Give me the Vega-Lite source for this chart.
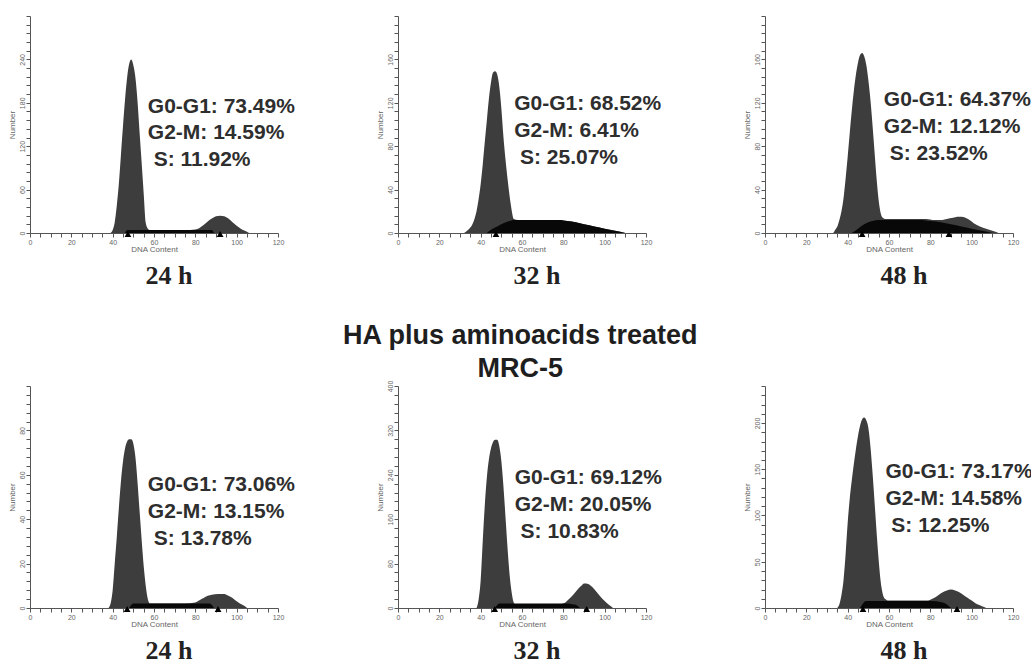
{
  "$schema": "https://vega.github.io/schema/vega-lite/v6.json",
  "background": "white",
  "padding": {"left": 8, "top": 15, "right": 5, "bottom": 5},
  "datasets": {
    "rows": [
      {"p":"A","k":"h","x":39,"v":0},{"p":"A","k":"h","x":40,"v":4},{"p":"A","k":"h","x":41,"v":15},{"p":"A","k":"h","x":42,"v":38},{"p":"A","k":"h","x":43,"v":68},{"p":"A","k":"h","x":44,"v":108},{"p":"A","k":"h","x":45,"v":148},{"p":"A","k":"h","x":46,"v":185},{"p":"A","k":"h","x":47,"v":215},{"p":"A","k":"h","x":48,"v":234},{"p":"A","k":"h","x":49,"v":240},{"p":"A","k":"h","x":50,"v":232},{"p":"A","k":"h","x":51,"v":215},{"p":"A","k":"h","x":52,"v":183},{"p":"A","k":"h","x":53,"v":140},{"p":"A","k":"h","x":54,"v":98},{"p":"A","k":"h","x":55,"v":55},{"p":"A","k":"h","x":56,"v":14},{"p":"A","k":"h","x":57,"v":6},{"p":"A","k":"h","x":58,"v":4},{"p":"A","k":"h","x":65,"v":4},{"p":"A","k":"h","x":75,"v":4},{"p":"A","k":"h","x":80,"v":5},{"p":"A","k":"h","x":82,"v":7},{"p":"A","k":"h","x":84,"v":11},{"p":"A","k":"h","x":86,"v":16},{"p":"A","k":"h","x":88,"v":20},{"p":"A","k":"h","x":90,"v":23},{"p":"A","k":"h","x":92,"v":24},{"p":"A","k":"h","x":94,"v":23},{"p":"A","k":"h","x":96,"v":20},{"p":"A","k":"h","x":98,"v":15},{"p":"A","k":"h","x":100,"v":10},{"p":"A","k":"h","x":102,"v":6},{"p":"A","k":"h","x":104,"v":3},{"p":"A","k":"h","x":106,"v":0},
      {"p":"A","k":"b","x":46,"v":0},{"p":"A","k":"b","x":47,"v":4},{"p":"A","k":"b","x":55,"v":4},{"p":"A","k":"b","x":65,"v":4},{"p":"A","k":"b","x":75,"v":4},{"p":"A","k":"b","x":85,"v":4},{"p":"A","k":"b","x":88,"v":4},{"p":"A","k":"b","x":89,"v":0},
      {"p":"A","k":"t","x":47.4,"v":0},{"p":"A","k":"t","x":92,"v":0},
      {"p":"A","k":"l","x":57,"v":166,"t":"G0-G1: 73.49%\nG2-M: 14.59%\n\u200b\u00a0S: 11.92%"},

      {"p":"B","k":"h","x":32,"v":0},{"p":"B","k":"h","x":34,"v":3},{"p":"B","k":"h","x":36,"v":8},{"p":"B","k":"h","x":37,"v":13},{"p":"B","k":"h","x":38,"v":20},{"p":"B","k":"h","x":39,"v":31},{"p":"B","k":"h","x":40,"v":45},{"p":"B","k":"h","x":41,"v":63},{"p":"B","k":"h","x":42,"v":84},{"p":"B","k":"h","x":43,"v":104},{"p":"B","k":"h","x":44,"v":124},{"p":"B","k":"h","x":45,"v":139},{"p":"B","k":"h","x":46,"v":148},{"p":"B","k":"h","x":47,"v":149},{"p":"B","k":"h","x":48,"v":146},{"p":"B","k":"h","x":49,"v":135},{"p":"B","k":"h","x":50,"v":115},{"p":"B","k":"h","x":51,"v":89},{"p":"B","k":"h","x":52,"v":68},{"p":"B","k":"h","x":53,"v":50},{"p":"B","k":"h","x":54,"v":34},{"p":"B","k":"h","x":55,"v":21},{"p":"B","k":"h","x":56,"v":13},{"p":"B","k":"h","x":58,"v":12},{"p":"B","k":"h","x":65,"v":12},{"p":"B","k":"h","x":72,"v":12},{"p":"B","k":"h","x":78,"v":12},{"p":"B","k":"h","x":82,"v":11},{"p":"B","k":"h","x":86,"v":10},{"p":"B","k":"h","x":90,"v":8},{"p":"B","k":"h","x":95,"v":6},{"p":"B","k":"h","x":100,"v":4},{"p":"B","k":"h","x":105,"v":2},{"p":"B","k":"h","x":110,"v":0},
      {"p":"B","k":"b","x":43,"v":0},{"p":"B","k":"b","x":45,"v":3},{"p":"B","k":"b","x":48,"v":6},{"p":"B","k":"b","x":51,"v":9},{"p":"B","k":"b","x":54,"v":11},{"p":"B","k":"b","x":56,"v":12},{"p":"B","k":"b","x":65,"v":12},{"p":"B","k":"b","x":72,"v":12},{"p":"B","k":"b","x":78,"v":12},{"p":"B","k":"b","x":82,"v":11},{"p":"B","k":"b","x":86,"v":10},{"p":"B","k":"b","x":90,"v":8},{"p":"B","k":"b","x":95,"v":6},{"p":"B","k":"b","x":100,"v":4},{"p":"B","k":"b","x":105,"v":2},{"p":"B","k":"b","x":110,"v":0},
      {"p":"B","k":"t","x":47.4,"v":0},
      {"p":"B","k":"l","x":56.2,"v":113,"t":"G0-G1: 68.52%\nG2-M: 6.41%\n\u200b\u00a0S: 25.07%"},

      {"p":"C","k":"h","x":33,"v":0},{"p":"C","k":"h","x":34,"v":3},{"p":"C","k":"h","x":35,"v":6},{"p":"C","k":"h","x":36,"v":12},{"p":"C","k":"h","x":37,"v":20},{"p":"C","k":"h","x":38,"v":32},{"p":"C","k":"h","x":39,"v":50},{"p":"C","k":"h","x":40,"v":70},{"p":"C","k":"h","x":41,"v":92},{"p":"C","k":"h","x":42,"v":113},{"p":"C","k":"h","x":43,"v":131},{"p":"C","k":"h","x":44,"v":146},{"p":"C","k":"h","x":45,"v":157},{"p":"C","k":"h","x":46,"v":164},{"p":"C","k":"h","x":47,"v":166},{"p":"C","k":"h","x":48,"v":163},{"p":"C","k":"h","x":49,"v":155},{"p":"C","k":"h","x":50,"v":141},{"p":"C","k":"h","x":51,"v":123},{"p":"C","k":"h","x":52,"v":100},{"p":"C","k":"h","x":53,"v":75},{"p":"C","k":"h","x":54,"v":50},{"p":"C","k":"h","x":55,"v":30},{"p":"C","k":"h","x":56,"v":18},{"p":"C","k":"h","x":57,"v":14},{"p":"C","k":"h","x":58,"v":13},{"p":"C","k":"h","x":65,"v":13},{"p":"C","k":"h","x":72,"v":13},{"p":"C","k":"h","x":78,"v":13},{"p":"C","k":"h","x":82,"v":12},{"p":"C","k":"h","x":85,"v":12},{"p":"C","k":"h","x":88,"v":13},{"p":"C","k":"h","x":91,"v":14},{"p":"C","k":"h","x":93,"v":15},{"p":"C","k":"h","x":95,"v":15},{"p":"C","k":"h","x":97,"v":14},{"p":"C","k":"h","x":99,"v":12},{"p":"C","k":"h","x":101,"v":9},{"p":"C","k":"h","x":104,"v":6},{"p":"C","k":"h","x":107,"v":4},{"p":"C","k":"h","x":110,"v":2},{"p":"C","k":"h","x":113,"v":0},
      {"p":"C","k":"b","x":42,"v":0},{"p":"C","k":"b","x":45,"v":4},{"p":"C","k":"b","x":48,"v":8},{"p":"C","k":"b","x":52,"v":11},{"p":"C","k":"b","x":55,"v":12},{"p":"C","k":"b","x":65,"v":12},{"p":"C","k":"b","x":75,"v":12},{"p":"C","k":"b","x":80,"v":11},{"p":"C","k":"b","x":85,"v":10},{"p":"C","k":"b","x":90,"v":8},{"p":"C","k":"b","x":95,"v":6},{"p":"C","k":"b","x":100,"v":4},{"p":"C","k":"b","x":105,"v":2},{"p":"C","k":"b","x":110,"v":0},
      {"p":"C","k":"t","x":47,"v":0},{"p":"C","k":"t","x":89,"v":0},
      {"p":"C","k":"l","x":57.5,"v":117,"t":"G0-G1: 64.37%\nG2-M: 12.12%\n\u200b\u00a0S: 23.52%"},

      {"p":"D","k":"h","x":38,"v":0},{"p":"D","k":"h","x":39,"v":2},{"p":"D","k":"h","x":40,"v":8},{"p":"D","k":"h","x":41,"v":20},{"p":"D","k":"h","x":42,"v":32},{"p":"D","k":"h","x":43,"v":45},{"p":"D","k":"h","x":44,"v":57},{"p":"D","k":"h","x":45,"v":66},{"p":"D","k":"h","x":46,"v":72},{"p":"D","k":"h","x":47,"v":75},{"p":"D","k":"h","x":48,"v":76},{"p":"D","k":"h","x":49,"v":76},{"p":"D","k":"h","x":50,"v":74},{"p":"D","k":"h","x":51,"v":68},{"p":"D","k":"h","x":52,"v":57},{"p":"D","k":"h","x":53,"v":44},{"p":"D","k":"h","x":54,"v":31},{"p":"D","k":"h","x":55,"v":19},{"p":"D","k":"h","x":56,"v":10},{"p":"D","k":"h","x":57,"v":4},{"p":"D","k":"h","x":58,"v":2},{"p":"D","k":"h","x":65,"v":2},{"p":"D","k":"h","x":75,"v":2},{"p":"D","k":"h","x":80,"v":2.5},{"p":"D","k":"h","x":82,"v":3.5},{"p":"D","k":"h","x":84,"v":4.5},{"p":"D","k":"h","x":86,"v":5.5},{"p":"D","k":"h","x":88,"v":6},{"p":"D","k":"h","x":91,"v":6.3},{"p":"D","k":"h","x":94,"v":6.3},{"p":"D","k":"h","x":96,"v":5.5},{"p":"D","k":"h","x":98,"v":4.5},{"p":"D","k":"h","x":100,"v":3},{"p":"D","k":"h","x":102,"v":1.8},{"p":"D","k":"h","x":104,"v":0.8},{"p":"D","k":"h","x":105,"v":0},
      {"p":"D","k":"b","x":48,"v":0},{"p":"D","k":"b","x":50,"v":2},{"p":"D","k":"b","x":60,"v":2},{"p":"D","k":"b","x":70,"v":2},{"p":"D","k":"b","x":80,"v":2},{"p":"D","k":"b","x":87,"v":2},{"p":"D","k":"b","x":89,"v":0},
      {"p":"D","k":"t","x":47,"v":0},{"p":"D","k":"t","x":91,"v":0},
      {"p":"D","k":"l","x":57,"v":52.8,"t":"G0-G1: 73.06%\nG2-M: 13.15%\n\u200b\u00a0S: 13.78%"},

      {"p":"E","k":"h","x":38,"v":0},{"p":"E","k":"h","x":39,"v":15},{"p":"E","k":"h","x":40,"v":50},{"p":"E","k":"h","x":41,"v":120},{"p":"E","k":"h","x":42,"v":185},{"p":"E","k":"h","x":43,"v":235},{"p":"E","k":"h","x":44,"v":268},{"p":"E","k":"h","x":45,"v":288},{"p":"E","k":"h","x":46,"v":299},{"p":"E","k":"h","x":47,"v":303},{"p":"E","k":"h","x":48,"v":303},{"p":"E","k":"h","x":49,"v":292},{"p":"E","k":"h","x":50,"v":265},{"p":"E","k":"h","x":51,"v":220},{"p":"E","k":"h","x":52,"v":165},{"p":"E","k":"h","x":53,"v":108},{"p":"E","k":"h","x":54,"v":60},{"p":"E","k":"h","x":55,"v":28},{"p":"E","k":"h","x":56,"v":10},{"p":"E","k":"h","x":57,"v":6},{"p":"E","k":"h","x":65,"v":6},{"p":"E","k":"h","x":75,"v":6},{"p":"E","k":"h","x":79,"v":7},{"p":"E","k":"h","x":81,"v":10},{"p":"E","k":"h","x":83,"v":17},{"p":"E","k":"h","x":85,"v":25},{"p":"E","k":"h","x":87,"v":34},{"p":"E","k":"h","x":89,"v":41},{"p":"E","k":"h","x":90,"v":44},{"p":"E","k":"h","x":91,"v":44},{"p":"E","k":"h","x":93,"v":41},{"p":"E","k":"h","x":95,"v":34},{"p":"E","k":"h","x":97,"v":25},{"p":"E","k":"h","x":99,"v":16},{"p":"E","k":"h","x":101,"v":9},{"p":"E","k":"h","x":103,"v":3},{"p":"E","k":"h","x":104,"v":0},
      {"p":"E","k":"b","x":47,"v":0},{"p":"E","k":"b","x":49,"v":8},{"p":"E","k":"b","x":60,"v":8},{"p":"E","k":"b","x":70,"v":8},{"p":"E","k":"b","x":80,"v":8},{"p":"E","k":"b","x":86,"v":6},{"p":"E","k":"b","x":88,"v":0},
      {"p":"E","k":"t","x":46.8,"v":0},{"p":"E","k":"t","x":91.3,"v":0},
      {"p":"E","k":"l","x":56.5,"v":223,"t":"G0-G1: 69.12%\nG2-M: 20.05%\n\u200b\u00a0S: 10.83%"},

      {"p":"F","k":"h","x":35,"v":0},{"p":"F","k":"h","x":36,"v":4},{"p":"F","k":"h","x":37,"v":14},{"p":"F","k":"h","x":38,"v":30},{"p":"F","k":"h","x":39,"v":58},{"p":"F","k":"h","x":40,"v":92},{"p":"F","k":"h","x":41,"v":118},{"p":"F","k":"h","x":42,"v":138},{"p":"F","k":"h","x":43,"v":156},{"p":"F","k":"h","x":44,"v":172},{"p":"F","k":"h","x":45,"v":186},{"p":"F","k":"h","x":46,"v":197},{"p":"F","k":"h","x":47,"v":204},{"p":"F","k":"h","x":48,"v":206},{"p":"F","k":"h","x":49,"v":203},{"p":"F","k":"h","x":50,"v":195},{"p":"F","k":"h","x":51,"v":175},{"p":"F","k":"h","x":52,"v":147},{"p":"F","k":"h","x":53,"v":115},{"p":"F","k":"h","x":54,"v":82},{"p":"F","k":"h","x":55,"v":52},{"p":"F","k":"h","x":56,"v":28},{"p":"F","k":"h","x":57,"v":15},{"p":"F","k":"h","x":58,"v":10},{"p":"F","k":"h","x":60,"v":8},{"p":"F","k":"h","x":70,"v":8},{"p":"F","k":"h","x":78,"v":8},{"p":"F","k":"h","x":80,"v":9},{"p":"F","k":"h","x":82,"v":11},{"p":"F","k":"h","x":84,"v":14},{"p":"F","k":"h","x":86,"v":17},{"p":"F","k":"h","x":88,"v":19},{"p":"F","k":"h","x":90,"v":20},{"p":"F","k":"h","x":92,"v":19},{"p":"F","k":"h","x":94,"v":17},{"p":"F","k":"h","x":96,"v":14},{"p":"F","k":"h","x":98,"v":11},{"p":"F","k":"h","x":100,"v":8},{"p":"F","k":"h","x":102,"v":5},{"p":"F","k":"h","x":104,"v":3},{"p":"F","k":"h","x":106,"v":1},{"p":"F","k":"h","x":107,"v":0},
      {"p":"F","k":"b","x":46,"v":0},{"p":"F","k":"b","x":49,"v":7.5},{"p":"F","k":"b","x":60,"v":7.5},{"p":"F","k":"b","x":70,"v":7.5},{"p":"F","k":"b","x":80,"v":7.5},{"p":"F","k":"b","x":86,"v":6},{"p":"F","k":"b","x":90,"v":0},
      {"p":"F","k":"t","x":47.4,"v":0},{"p":"F","k":"t","x":92.9,"v":0},
      {"p":"F","k":"l","x":58.3,"v":141,"t":"G0-G1: 73.17%\nG2-M: 14.58%\n\u200b\u00a0S: 12.25%"}
    ]
  },
  "data": {"name": "rows"},
  "spacing": 33,
  "vconcat": [
    {
      "spacing": 81,
      "hconcat": [
        {
          "width": 248, "height": 217,
          "title": {"text": "24 h", "dx": 15},
          "transform": [{"filter": "datum.p == 'A'"}],
          "encoding": {
            "x": {"field": "x", "type": "quantitative", "title": "DNA Content", "scale": {"domain": [0, 120], "nice": false},
                  "axis": {"values": [0,5,10,15,20,25,30,35,40,45,50,55,60,65,70,75,80,85,90,95,100,105,110,115,120], "labelExpr": "datum.value % 20 == 0 ? datum.label : ''"}},
            "y": {"field": "v", "type": "quantitative", "title": "Number", "scale": {"domain": [0, 300], "nice": false},
                  "axis": {"values": [0,12,24,36,48,60,72,84,96,108,120,132,144,156,168,180,192,204,216,228,240,252,264,276,288,300], "labelExpr": "datum.value % 60 == 0 && datum.value < 300 ? datum.label : ''"}}
          },
          "layer": [
            {"transform": [{"filter": "datum.k == 'h'"}], "mark": {"type": "area", "interpolate": "monotone", "color": "#3d3d3d"}},
            {"transform": [{"filter": "datum.k == 'b'"}], "mark": {"type": "area", "interpolate": "monotone", "color": "#080808"}},
            {"transform": [{"filter": "datum.k == 't'"}], "mark": {"type": "point", "shape": "triangle-up", "filled": true, "size": 45, "color": "#000", "opacity": 1, "yOffset": 1}},
            {"transform": [{"filter": "datum.k == 'l'"}], "mark": {"type": "text", "align": "left", "baseline": "alphabetic", "lineBreak": "\n", "font": "Liberation Sans", "fontSize": 21, "fontWeight": "bold", "lineHeight": 26.5, "color": "#2e2e2e"}, "encoding": {"text": {"field": "t"}}}
          ]
        },
        {
          "width": 248, "height": 217,
          "title": {"text": "32 h", "dx": 15},
          "transform": [{"filter": "datum.p == 'B'"}],
          "encoding": {
            "x": {"field": "x", "type": "quantitative", "title": "DNA Content", "scale": {"domain": [0, 120], "nice": false},
                  "axis": {"values": [0,5,10,15,20,25,30,35,40,45,50,55,60,65,70,75,80,85,90,95,100,105,110,115,120], "labelExpr": "datum.value % 20 == 0 ? datum.label : ''"}},
            "y": {"field": "v", "type": "quantitative", "title": "Number", "scale": {"domain": [0, 200], "nice": false},
                  "axis": {"values": [0,8,16,24,32,40,48,56,64,72,80,88,96,104,112,120,128,136,144,152,160,168,176,184,192,200], "labelExpr": "datum.value % 40 == 0 && datum.value < 200 ? datum.label : ''"}}
          },
          "layer": [
            {"transform": [{"filter": "datum.k == 'h'"}], "mark": {"type": "area", "interpolate": "monotone", "color": "#3d3d3d"}},
            {"transform": [{"filter": "datum.k == 'b'"}], "mark": {"type": "area", "interpolate": "monotone", "color": "#080808"}},
            {"transform": [{"filter": "datum.k == 't'"}], "mark": {"type": "point", "shape": "triangle-up", "filled": true, "size": 45, "color": "#000", "opacity": 1, "yOffset": 1}},
            {"transform": [{"filter": "datum.k == 'l'"}], "mark": {"type": "text", "align": "left", "baseline": "alphabetic", "lineBreak": "\n", "font": "Liberation Sans", "fontSize": 21, "fontWeight": "bold", "lineHeight": 27, "color": "#2e2e2e"}, "encoding": {"text": {"field": "t"}}}
          ]
        },
        {
          "width": 248, "height": 217,
          "title": {"text": "48 h", "dx": 15},
          "transform": [{"filter": "datum.p == 'C'"}],
          "encoding": {
            "x": {"field": "x", "type": "quantitative", "title": "DNA Content", "scale": {"domain": [0, 120], "nice": false},
                  "axis": {"values": [0,5,10,15,20,25,30,35,40,45,50,55,60,65,70,75,80,85,90,95,100,105,110,115,120], "labelExpr": "datum.value % 20 == 0 ? datum.label : ''"}},
            "y": {"field": "v", "type": "quantitative", "title": "Number", "scale": {"domain": [0, 200], "nice": false},
                  "axis": {"values": [0,8,16,24,32,40,48,56,64,72,80,88,96,104,112,120,128,136,144,152,160,168,176,184,192,200], "labelExpr": "datum.value % 40 == 0 && datum.value < 200 ? datum.label : ''"}}
          },
          "layer": [
            {"transform": [{"filter": "datum.k == 'h'"}], "mark": {"type": "area", "interpolate": "monotone", "color": "#3d3d3d"}},
            {"transform": [{"filter": "datum.k == 'b'"}], "mark": {"type": "area", "interpolate": "monotone", "color": "#080808"}},
            {"transform": [{"filter": "datum.k == 't'"}], "mark": {"type": "point", "shape": "triangle-up", "filled": true, "size": 45, "color": "#000", "opacity": 1, "yOffset": 1}},
            {"transform": [{"filter": "datum.k == 'l'"}], "mark": {"type": "text", "align": "left", "baseline": "alphabetic", "lineBreak": "\n", "font": "Liberation Sans", "fontSize": 21, "fontWeight": "bold", "lineHeight": 27, "color": "#2e2e2e"}, "encoding": {"text": {"field": "t"}}}
          ]
        }
      ]
    },
    {
      "spacing": 81,
      "title": {"text": ["HA plus aminoacids treated", "MRC-5"], "orient": "top", "anchor": "middle", "font": "Liberation Sans", "fontSize": 27, "fontWeight": "bold", "lineHeight": 33, "color": "#1e1e1e", "offset": -3},
      "hconcat": [
        {
          "width": 248, "height": 222,
          "title": {"text": "24 h", "dx": 15},
          "transform": [{"filter": "datum.p == 'D'"}],
          "encoding": {
            "x": {"field": "x", "type": "quantitative", "title": "DNA Content", "scale": {"domain": [0, 120], "nice": false},
                  "axis": {"values": [0,5,10,15,20,25,30,35,40,45,50,55,60,65,70,75,80,85,90,95,100,105,110,115,120], "labelExpr": "datum.value % 20 == 0 ? datum.label : ''"}},
            "y": {"field": "v", "type": "quantitative", "title": "Number", "scale": {"domain": [0, 100], "nice": false},
                  "axis": {"values": [0,4,8,12,16,20,24,28,32,36,40,44,48,52,56,60,64,68,72,76,80,84,88,92,96,100], "labelExpr": "datum.value % 20 == 0 && datum.value < 100 ? datum.label : ''"}}
          },
          "layer": [
            {"transform": [{"filter": "datum.k == 'h'"}], "mark": {"type": "area", "interpolate": "monotone", "color": "#3d3d3d"}},
            {"transform": [{"filter": "datum.k == 'b'"}], "mark": {"type": "area", "interpolate": "monotone", "color": "#080808"}},
            {"transform": [{"filter": "datum.k == 't'"}], "mark": {"type": "point", "shape": "triangle-up", "filled": true, "size": 45, "color": "#000", "opacity": 1, "yOffset": 1}},
            {"transform": [{"filter": "datum.k == 'l'"}], "mark": {"type": "text", "align": "left", "baseline": "alphabetic", "lineBreak": "\n", "font": "Liberation Sans", "fontSize": 21, "fontWeight": "bold", "lineHeight": 27, "color": "#2e2e2e"}, "encoding": {"text": {"field": "t"}}}
          ]
        },
        {
          "width": 248, "height": 222,
          "title": {"text": "32 h", "dx": 15},
          "transform": [{"filter": "datum.p == 'E'"}],
          "encoding": {
            "x": {"field": "x", "type": "quantitative", "title": "DNA Content", "scale": {"domain": [0, 120], "nice": false},
                  "axis": {"values": [0,5,10,15,20,25,30,35,40,45,50,55,60,65,70,75,80,85,90,95,100,105,110,115,120], "labelExpr": "datum.value % 20 == 0 ? datum.label : ''"}},
            "y": {"field": "v", "type": "quantitative", "title": "Number", "scale": {"domain": [0, 400], "nice": false},
                  "axis": {"values": [0,16,32,48,64,80,96,112,128,144,160,176,192,208,224,240,256,272,288,304,320,336,352,368,384,400], "labelExpr": "datum.value % 80 == 0 ? datum.label : ''"}}
          },
          "layer": [
            {"transform": [{"filter": "datum.k == 'h'"}], "mark": {"type": "area", "interpolate": "monotone", "color": "#3d3d3d"}},
            {"transform": [{"filter": "datum.k == 'b'"}], "mark": {"type": "area", "interpolate": "monotone", "color": "#080808"}},
            {"transform": [{"filter": "datum.k == 't'"}], "mark": {"type": "point", "shape": "triangle-up", "filled": true, "size": 45, "color": "#000", "opacity": 1, "yOffset": 1}},
            {"transform": [{"filter": "datum.k == 'l'"}], "mark": {"type": "text", "align": "left", "baseline": "alphabetic", "lineBreak": "\n", "font": "Liberation Sans", "fontSize": 21, "fontWeight": "bold", "lineHeight": 27, "color": "#2e2e2e"}, "encoding": {"text": {"field": "t"}}}
          ]
        },
        {
          "width": 248, "height": 222,
          "title": {"text": "48 h", "dx": 15},
          "transform": [{"filter": "datum.p == 'F'"}],
          "encoding": {
            "x": {"field": "x", "type": "quantitative", "title": "DNA Content", "scale": {"domain": [0, 120], "nice": false},
                  "axis": {"values": [0,5,10,15,20,25,30,35,40,45,50,55,60,65,70,75,80,85,90,95,100,105,110,115,120], "labelExpr": "datum.value % 20 == 0 ? datum.label : ''"}},
            "y": {"field": "v", "type": "quantitative", "title": "Number", "scale": {"domain": [0, 240], "nice": false},
                  "axis": {"values": [0,10,20,30,40,50,60,70,80,90,100,110,120,130,140,150,160,170,180,190,200,210,220,230,240], "labelExpr": "datum.value % 50 == 0 ? datum.label : ''"}}
          },
          "layer": [
            {"transform": [{"filter": "datum.k == 'h'"}], "mark": {"type": "area", "interpolate": "monotone", "color": "#3d3d3d"}},
            {"transform": [{"filter": "datum.k == 'b'"}], "mark": {"type": "area", "interpolate": "monotone", "color": "#080808"}},
            {"transform": [{"filter": "datum.k == 't'"}], "mark": {"type": "point", "shape": "triangle-up", "filled": true, "size": 45, "color": "#000", "opacity": 1, "yOffset": 1}},
            {"transform": [{"filter": "datum.k == 'l'"}], "mark": {"type": "text", "align": "left", "baseline": "alphabetic", "lineBreak": "\n", "font": "Liberation Sans", "fontSize": 21, "fontWeight": "bold", "lineHeight": 27, "color": "#2e2e2e"}, "encoding": {"text": {"field": "t"}}}
          ]
        }
      ]
    }
  ],
  "config": {
    "view": {"stroke": null},
    "font": "Liberation Sans",
    "axis": {"grid": false, "domainColor": "#555", "tickColor": "#555", "labelColor": "#666", "titleColor": "#666", "labelFont": "Liberation Sans", "titleFont": "Liberation Sans", "labelFontSize": 7, "titleFontSize": 8, "titleFontWeight": "normal", "tickSize": 4, "labelOverlap": false, "labelFlush": false},
    "axisX": {"labelPadding": 1, "titlePadding": 0},
    "axisY": {"labelAngle": -90, "labelAlign": "center", "labelBaseline": "bottom", "labelPadding": 1, "titlePadding": 2},
    "title": {"font": "Liberation Serif", "fontSize": 26, "fontWeight": "bold", "color": "#222", "orient": "bottom", "offset": 10}
  }
}
